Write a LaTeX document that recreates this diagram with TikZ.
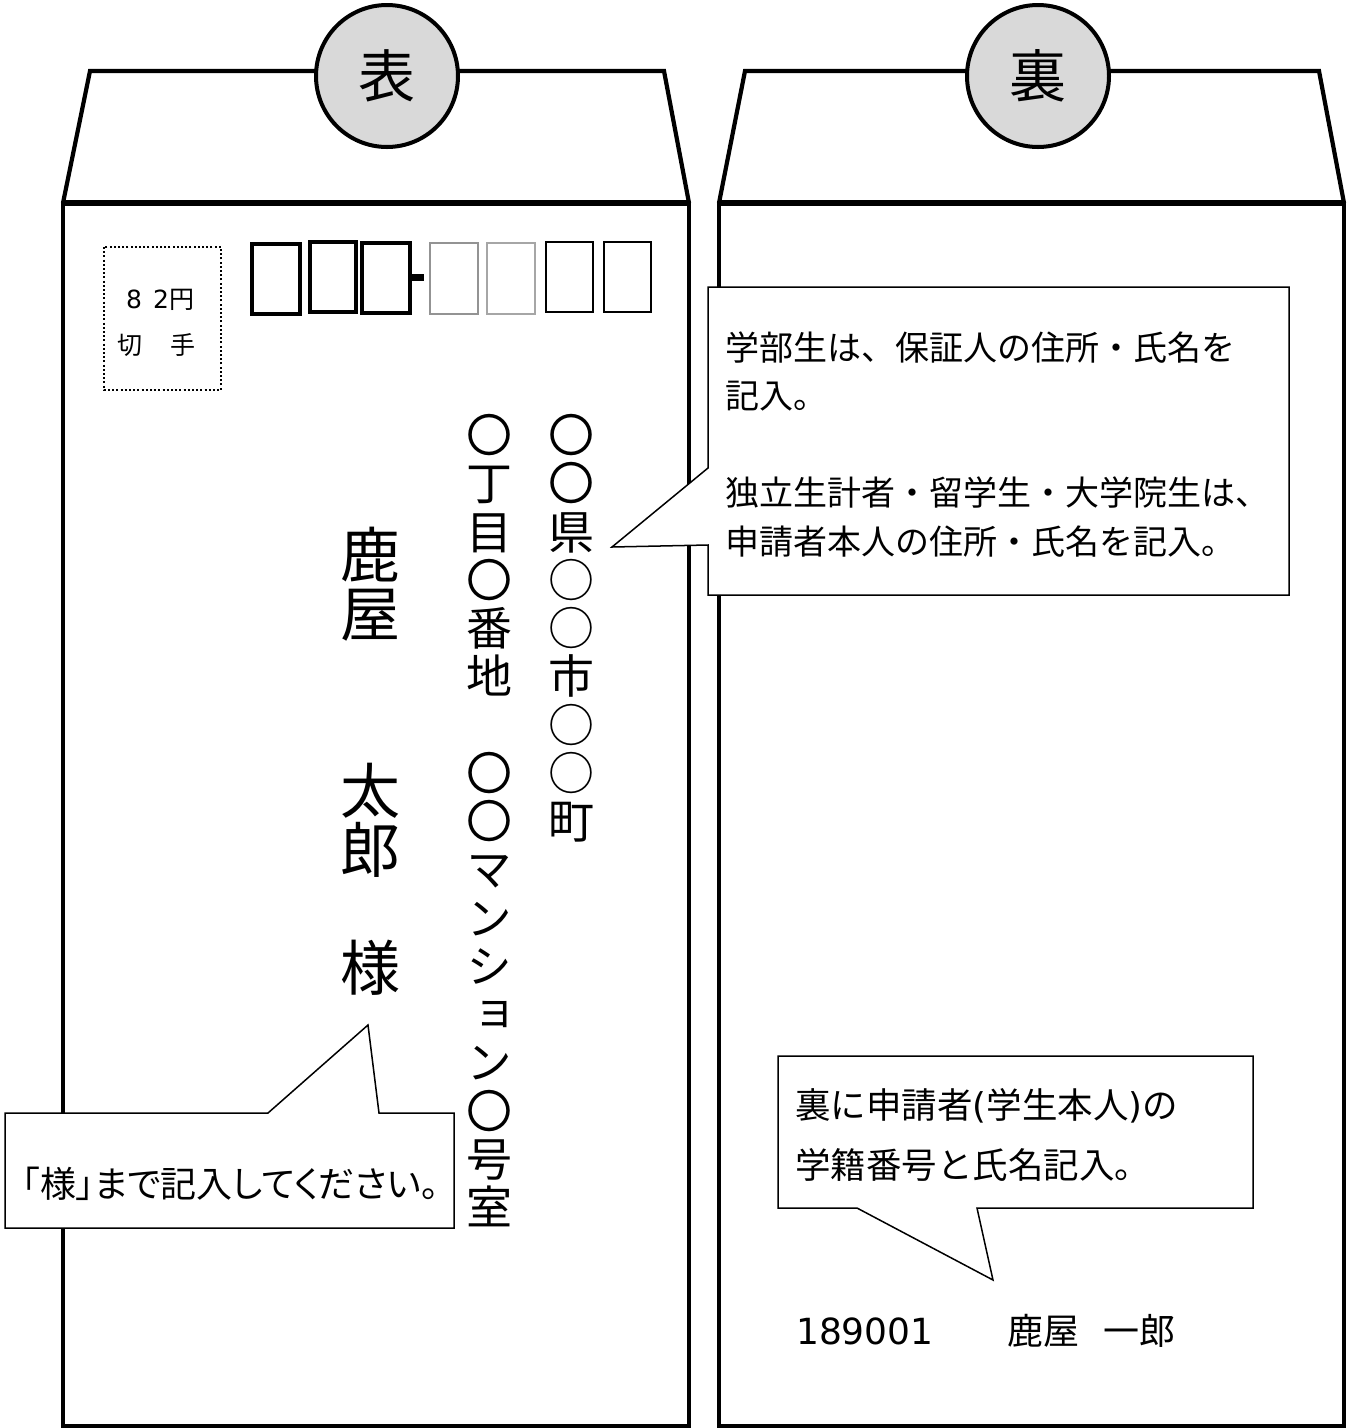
\documentclass[tikz,border=0pt]{standalone}
\usepackage{fontspec}
\setmainfont{Noto Sans CJK JP}
\newfontfamily\jpp[RawFeature=+palt]{Noto Sans CJK JP}
\newfontfamily\jpv[RawFeature=+vert]{Noto Sans CJK JP}
\newfontfamily\latn{DejaVu Sans}
\definecolor{tagfill}{RGB}{217,217,217}
\begin{document}
\begin{tikzpicture}[x=1pt,y=-1pt,
  env/.style={line width=4.2pt, line join=miter},
  tag/.style={circle, draw, line width=4pt, fill=tagfill, minimum size=142pt, inner sep=0pt, font=\fontsize{57}{60}\selectfont},
  pcthick/.style={line width=4pt},
  pcthin/.style={line width=1.5pt},
  stampline/.style={line width=2.5pt, dash pattern=on 2pt off 2.2pt},
  callout/.style={draw=black, line width=1.5pt, fill=white, line join=miter},
  vch/.style={anchor=base, inner sep=0pt, font=\jpv\fontsize{46}{48}\selectfont},
  namech/.style={anchor=base, inner sep=0pt, font=\jpv\fontsize{60}{62}\selectfont},
  small/.style={anchor=base, inner sep=0pt, font=\fontsize{25}{28}\selectfont}]
\useasboundingbox (0,0) rectangle (1349,1428);
\fill[white] (0,0) rectangle (1349,1428);

% envelopes
\draw[env] (63,1426) -- (63,203) -- (689,203) -- (689,1426) -- cycle;
\draw[env] (63,203) -- (90,71) -- (664,71) -- (689,203);
\draw[line width=5.5pt] (63,203) -- (689,203);
\draw[env] (719,1426) -- (719,203) -- (1344,203) -- (1344,1426) -- cycle;
\draw[env] (719,203) -- (745,71) -- (1319,71) -- (1344,203);
\draw[line width=5.5pt] (719,203) -- (1344,203);

% tags
\node[tag] (omote) at (387,76) {表};
\node[tag] (ura) at (1038,76) {裏};

% stamp
\draw[stampline] (104,247) rectangle (221,390);
\node[small, anchor=base west] (stampa) at (126,308) {{\latn 8\hspace{11pt}2}円};
\node[small, anchor=base west] (stampb) at (117,354) {切\hspace{28pt}手};

% postal code boxes
\draw[pcthick] (252,244) rectangle (300,314);
\draw[pcthick] (310,242) rectangle (356,312);
\draw[pcthick] (362,243) rectangle (410,313);
\draw[line width=7pt] (410,277) -- (424,277);
\draw[pcthin, draw=gray!85] (430,243) rectangle (478,314);
\draw[pcthin, draw=gray!70] (487,243) rectangle (535,314);
\draw[pcthin] (546,242) rectangle (593,312);
\draw[pcthin] (604,242) rectangle (651,312);

% address columns
\foreach \c/\i in {〇/0,〇/1,県/2,○/3,○/4,市/5,○/6,○/7,町/8}
  \node[vch] (ca\i) at (571,{452.5+48.25*\i}) {\c};
\foreach \c/\i in {〇/0,丁/1,目/2,〇/3,番/4,地/5,〇/7,〇/8,マ/9,ン/10,シ/11,ョ/12,ン/13,〇/14,号/15,室/16}
  \node[vch] (cb\i) at (489,{452.5+48.25*\i}) {\c};
\foreach \c/\i in {鹿/0,屋/1,太/4,郎/5,様/7}
  \node[namech] (nm\i) at (370,{577.8+59*\i}) {\c};

% callout 1
\draw[callout] (708,287) -- (1289,287) -- (1289,595) -- (708,595) -- (708,545) -- (612,547) -- (708,468) -- cycle;
\node[anchor=north west, inner sep=0pt, align=left, font=\fontsize{34}{48.5}\selectfont] (note1) at (725,326)
  {\strut 学部生は、保証人の住所・氏名を\\\strut 記入。\\\strut\\\strut 独立生計者・留学生・大学院生は、\\\strut 申請者本人の住所・氏名を記入。};

% callout 2
\draw[callout] (5,1113) -- (268,1113) -- (368,1025) -- (379,1113) -- (454,1113) -- (454,1228) -- (5,1228) -- cycle;
\node[anchor=base west, inner sep=0pt, font=\jpp\fontsize{36}{40}\selectfont] (note2) at (22,1197) {「様」まで記入してください。};

% callout 3
\draw[callout] (778,1056) -- (1253,1056) -- (1253,1208) -- (977,1208) -- (993,1280) -- (857,1208) -- (778,1208) -- cycle;
\node[anchor=north west, inner sep=0pt, align=left, font=\fontsize{35.5}{60}\selectfont] (note3) at (795,1076)
  {\strut 裏に申請者{\latn(}学生本人{\latn)}の\\\strut 学籍番号と氏名記入。};

% sender
\node[anchor=base west, inner sep=0pt, font=\fontsize{36}{40}\selectfont] (sender) at (796,1344) {{\latn 189001}\hspace{74pt}鹿屋\hspace{24pt}一郎};
\end{tikzpicture}
\end{document}
